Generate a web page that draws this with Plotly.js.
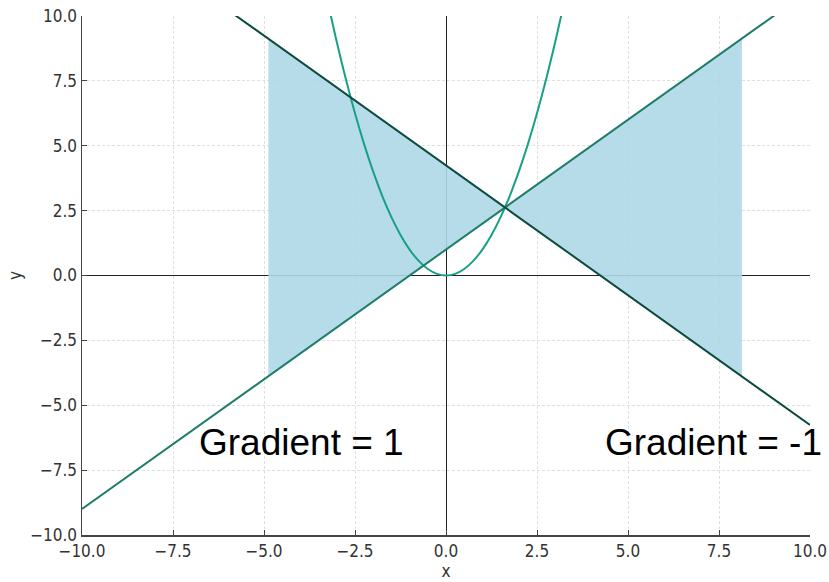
<!DOCTYPE html>
<html>
<head>
<meta charset="utf-8">
<script src="https://cdn.plot.ly/plotly-3.0.1.min.js"></script>
<style>html,body{margin:0;padding:0;background:#fff;}#chart{width:829px;height:582px;}</style>
</head>
<body>
<div id="chart"></div>
<script>
// Parabola points
const parabolaX = [-3.17, -3.0, -2.75, -2.5, -2.25, -2.0, -1.75, -1.5, -1.25, -1.0, -0.75, -0.5, -0.25, 0, 0.25, 0.5, 0.75, 1.0, 1.25, 1.5, 1.75, 2.0, 2.25, 2.5, 2.75, 3.0, 3.17];
const parabolaY = [10.05, 9.0, 7.5625, 6.25, 5.0625, 4.0, 3.0625, 2.25, 1.5625, 1.0, 0.5625, 0.25, 0.0625, 0, 0.0625, 0.25, 0.5625, 1.0, 1.5625, 2.25, 3.0625, 4.0, 5.0625, 6.25, 7.5625, 9.0, 10.05];
// Line with gradient 1
const line1X = [-10, 10];
const line1Y = [-9, 11];
// Line with gradient -1
const line2X = [-10, 10];
const line2Y = [14.24, -5.76];
// Shaded region (bow-tie between the lines)
const fillX = [-4.88, 1.618, 8.13, 8.13, 1.618, -4.88, -4.88];
const fillY = [9.12, 2.618, 9.13, -3.89, 2.618, -3.88, 9.12];
// Labels
const labelText = ["Gradient = 1", "Gradient = -1"];
const labelX = [-3.98, 7.34];
const labelY = [-6.45, -6.45];
const tickVals = [-10, -7.5, -5, -2.5, 0, 2.5, 5, 7.5, 10];

const traces = [
  {x: fillX, y: fillY, type: 'scatter', mode: 'lines', fill: 'toself',
   fillcolor: 'rgba(173,216,230,0.9)', line: {width: 0}, hoverinfo: 'skip'},
  {x: parabolaX, y: parabolaY, type: 'scatter', mode: 'lines',
   line: {color: '#17a085', width: 2, shape: 'spline'}},
  {x: line1X, y: line1Y, type: 'scatter', mode: 'lines',
   line: {color: '#1e7c68', width: 2}},
  {x: line2X, y: line2Y, type: 'scatter', mode: 'lines',
   line: {color: '#0b4b3c', width: 2}}
];

const tickFont = {family: 'DejaVu Sans Condensed, DejaVu Sans, sans-serif', size: 17, color: '#333'};
const axisCommon = {
  range: [-10, 10], tickvals: tickVals, tickformat: '.1f',
  showgrid: true, gridcolor: '#d8d8d8', griddash: '3px,2px', gridwidth: 0.8,
  zeroline: true, zerolinecolor: '#222', zerolinewidth: 1,
  showline: true, linecolor: '#444', linewidth: 1.5, mirror: false,
  ticks: 'inside', ticklen: 5, tickcolor: '#444', tickwidth: 1,
  tickfont: tickFont, fixedrange: true
};

const layout = {
  width: 829, height: 582,
  margin: {l: 82, r: 19, t: 16, b: 47},
  paper_bgcolor: '#fff', plot_bgcolor: '#fff',
  showlegend: false,
  xaxis: Object.assign({}, axisCommon, {title: {text: 'x', font: {family: 'DejaVu Sans Condensed, DejaVu Sans, sans-serif', size: 17, color: '#333'}, standoff: 5}}),
  yaxis: Object.assign({}, axisCommon, {title: {text: 'y', font: {family: 'DejaVu Sans Condensed, DejaVu Sans, sans-serif', size: 17, color: '#333'}, standoff: 4}}),
  annotations: labelText.map((t, i) => ({
    x: labelX[i], y: labelY[i], xref: 'x', yref: 'y', text: t, showarrow: false,
    font: {family: 'Liberation Sans, Arial, sans-serif', size: 37, color: '#000'},
    xanchor: 'center', yanchor: 'middle'
  }))
};

Plotly.newPlot('chart', traces, layout, {displayModeBar: false, staticPlot: true});
</script>
</body>
</html>
